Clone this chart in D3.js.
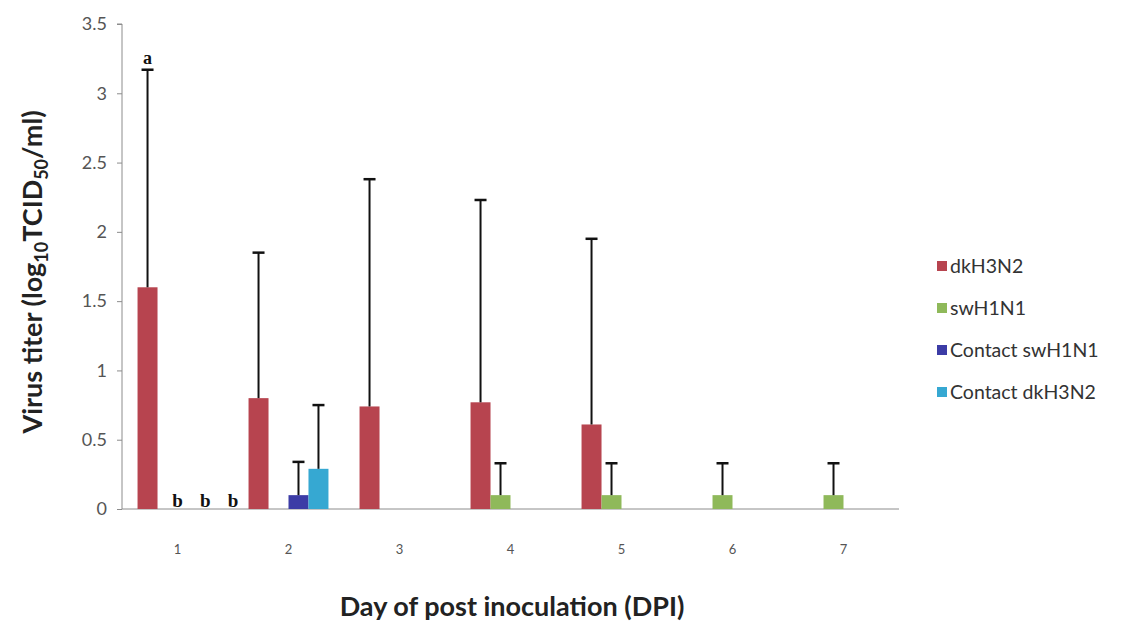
<!DOCTYPE html>
<html>
<head>
<meta charset="utf-8">
<script src="https://cdn.jsdelivr.net/npm/d3@7"></script>
<style>
  html, body { margin: 0; padding: 0; background: #ffffff; }
  svg { display: block; }
</style>
</head>
<body>
<svg id="chart" width="1146" height="623"></svg>
<script>
// ---------- data ----------
const days = ["1", "2", "3", "4", "5", "6", "7"];
const seriesNames = ["dkH3N2", "swH1N1", "Contact swH1N1", "Contact dkH3N2"];
const seriesColors = ["#b7444f", "#8fb95a", "#3c3ca6", "#36a8d2"];
const dkH3N2 = [1.60, 0.80, 0.74, 0.77, 0.61, 0, 0];
const dkH3N2Err = [1.57, 1.05, 1.64, 1.46, 1.34, 0, 0];
const swH1N1 = [0, 0, 0, 0.10, 0.10, 0.10, 0.10];
const swH1N1Err = [0, 0, 0, 0.23, 0.23, 0.23, 0.23];
const contactSw = [0, 0.10, 0, 0, 0, 0, 0];
const contactSwErr = [0, 0.24, 0, 0, 0, 0, 0];
const contactDk = [0, 0.29, 0, 0, 0, 0, 0];
const contactDkErr = [0, 0.46, 0, 0, 0, 0, 0];
const yTicks = [0, 0.5, 1, 1.5, 2, 2.5, 3, 3.5];
// significance letters
const letterA = [["a", 0, 3.17]];            // letter, series index, value
const lettersB = [["b", 1.0], ["b", 1.25], ["b", 1.5]];  // letter, day position

// ---------- layout ----------
const svg = d3.select("#chart");
const mLeft = 122, mRight = 899, mTop = 24, mBottom = 509;

const x0 = d3.scaleBand().domain(days).range([mLeft, mRight]).paddingInner(0.28).paddingOuter(0.14);
const x1 = d3.scaleBand().domain(seriesNames).range([0, x0.bandwidth()]);
const y = d3.scaleLinear().domain([0, 3.5]).range([mBottom, mTop]);
const dayPos = d3.scaleLinear().domain([1, 2]).range([x0("1") + x0.bandwidth() / 2, x0("2") + x0.bandwidth() / 2]);

const values = [dkH3N2, swH1N1, contactSw, contactDk];
const errs = [dkH3N2Err, swH1N1Err, contactSwErr, contactDkErr];

const rows = [];
days.forEach((d, i) => {
  seriesNames.forEach((s, k) => {
    rows.push({ day: d, series: s, k: k, v: values[k][i], e: errs[k][i] });
  });
});

// ---------- axes ----------
const yAxis = d3.axisLeft(y).tickValues(yTicks).tickSize(5).tickPadding(10)
  .tickFormat(d3.format("~g"));
const gy = svg.append("g").attr("transform", `translate(${mLeft},0)`).call(yAxis);
gy.select(".domain").attr("stroke", "#8c8c8c").attr("d", `M-5,${mTop}H0V${mBottom}`);
gy.selectAll(".tick line").attr("stroke", "#8c8c8c");
gy.selectAll(".tick text").attr("fill", "#555").style("font-family", "Lato, 'Open Sans', sans-serif").style("font-size", "18px");

const xAxis = d3.axisBottom(x0).tickSize(0).tickPadding(36);
const gx = svg.append("g").attr("transform", `translate(0,${mBottom})`).call(xAxis);
gx.select(".domain").attr("stroke", "#8c8c8c").attr("d", `M${mLeft},0H${mRight}`);
gx.selectAll(".tick text").attr("fill", "#555").style("font-family", "Lato, 'Open Sans', sans-serif").style("font-size", "13px");

// ---------- bars ----------
svg.append("g").selectAll("rect").data(rows.filter(r => r.v > 0)).join("rect")
  .attr("x", r => x0(r.day) + x1(r.series))
  .attr("width", x1.bandwidth())
  .attr("y", r => y(r.v))
  .attr("height", r => y(0) - y(r.v))
  .attr("fill", r => seriesColors[r.k]);

// ---------- error bars ----------
const eg = svg.append("g").attr("stroke", "#111").attr("stroke-width", 2);
rows.filter(r => r.e > 0).forEach(r => {
  const cx = x0(r.day) + x1(r.series) + x1.bandwidth() / 2;
  eg.append("line").attr("x1", cx).attr("x2", cx).attr("y1", y(r.v)).attr("y2", y(r.v + r.e));
  eg.append("line").attr("x1", cx - 6).attr("x2", cx + 6).attr("y1", y(r.v + r.e)).attr("y2", y(r.v + r.e)).attr("stroke-width", 2.5);
});

// ---------- letters ----------
letterA.forEach(([t, k, v]) => {
  svg.append("text")
    .attr("x", x0(days[0]) + x1(seriesNames[k]) + x1.bandwidth() / 2)
    .attr("y", y(v) - 6)
    .attr("text-anchor", "middle")
    .style("font-family", "'Liberation Serif', 'DejaVu Serif', serif")
    .style("font-weight", "bold").style("font-size", "18px").attr("fill", "#111")
    .text(t);
});
lettersB.forEach(([t, p]) => {
  svg.append("text")
    .attr("x", dayPos(p)).attr("y", y(0) - 2)
    .attr("text-anchor", "middle")
    .style("font-family", "'Liberation Serif', 'DejaVu Serif', serif")
    .style("font-weight", "bold").style("font-size", "19px").attr("fill", "#111")
    .text(t);
});

// ---------- axis titles ----------
const yt = svg.append("text")
  .attr("transform", `translate(42,272) rotate(-90)`)
  .attr("text-anchor", "middle")
  .style("font-family", "Lato, 'Open Sans', sans-serif")
  .style("font-weight", "bold").style("font-size", "27px").attr("fill", "#222");
yt.append("tspan").text("Virus titer (log");
yt.append("tspan").text("10").attr("dy", 6).style("font-size", "18px");
yt.append("tspan").text("TCID").attr("dy", -6);
yt.append("tspan").text("50").attr("dy", 6).style("font-size", "18px");
yt.append("tspan").text("/ml)").attr("dy", -6);

svg.append("text")
  .attr("x", 512).attr("y", 616)
  .attr("text-anchor", "middle")
  .style("font-family", "Lato, 'Open Sans', sans-serif")
  .style("font-weight", "bold").style("font-size", "27px").attr("fill", "#222")
  .text("Day of post inoculation (DPI)");

// ---------- legend ----------
const lg = svg.append("g").attr("transform", "translate(937,266)");
seriesNames.forEach((s, k) => {
  const g = lg.append("g").attr("transform", `translate(0,${k * 42})`);
  g.append("rect").attr("x", 0).attr("y", -5).attr("width", 10).attr("height", 10).attr("fill", seriesColors[k]);
  g.append("text").attr("x", 13).attr("y", 0).attr("dy", "0.35em")
    .style("font-family", "Lato, 'Open Sans', sans-serif").style("font-size", "19.5px").attr("fill", "#333")
    .text(s);
});
</script>
</body>
</html>
